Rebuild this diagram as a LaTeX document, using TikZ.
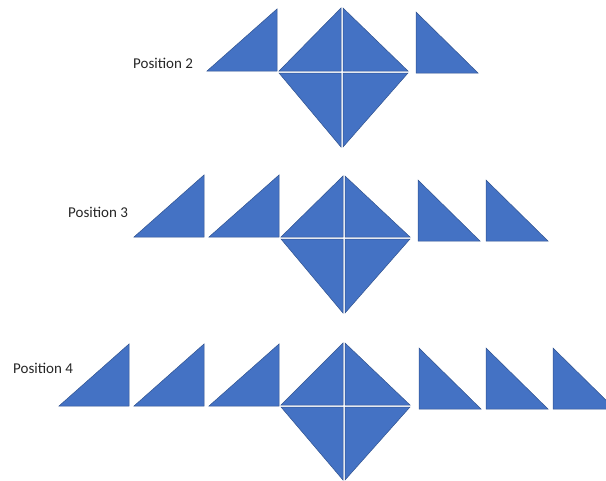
\documentclass[tikz,border=0pt]{standalone}
\usepackage{fontspec}
\setmainfont{Carlito}
\definecolor{tileblue}{RGB}{68, 114, 196}
\definecolor{tileedge}{RGB}{47, 82, 143}
\usetikzlibrary{positioning}

\begin{document}
\begin{tikzpicture}[x=1pt, y=-1pt,
  tile/.style={fill=tileblue, draw=tileedge, line width=0.5pt},
  poslabel/.style={font=\fontsize{15}{17}\selectfont, text=black!85, inner sep=0pt, anchor=west}]
  \useasboundingbox (0,0) rectangle (606,480);
  \clip (0,0) rectangle (606,480);

  % row labels
  \node[poslabel] (pos2) at (133,63) {Position 2};
  \node[poslabel] (pos3) at (68,212) {Position 3};
  \node[poslabel] (pos4) at (13,368) {Position 4};

  % left triangles, right angle bottom right
  \foreach \x/\b in {207/71, 134/237, 209/237, 59/406, 134/406, 209/406}
    \draw[tile] (\x,\b) -- (\x+70,\b-62) -- (\x+70,\b) -- cycle;

  % right triangles, right angle bottom left
  \foreach \x/\b in {416/73, 418/241, 486/241, 419/409, 486/409, 553/409}
    \draw[tile] (\x,\b-61) -- (\x+62,\b) -- (\x,\b) -- cycle;

  % diamonds of four pieces: centre, top, middle, bottom
  \foreach \c/\t/\m/\bt in {342/8/72/147, 344/176/238/313, 344/343/406/480}{
    \draw[tile] (\c-63,\m-1) -- (\c-1,\t) -- (\c-1,\m-1) -- cycle;
    \draw[tile] (\c+1,\t) -- (\c+66,\m-1) -- (\c+1,\m-1) -- cycle;
    \draw[tile] (\c-63,\m+1) -- (\c-1,\m+1) -- (\c-1,\bt) -- cycle;
    \draw[tile] (\c+1,\m+1) -- (\c+66,\m+1) -- (\c+1,\bt) -- cycle;
  }
\end{tikzpicture}
\end{document}
